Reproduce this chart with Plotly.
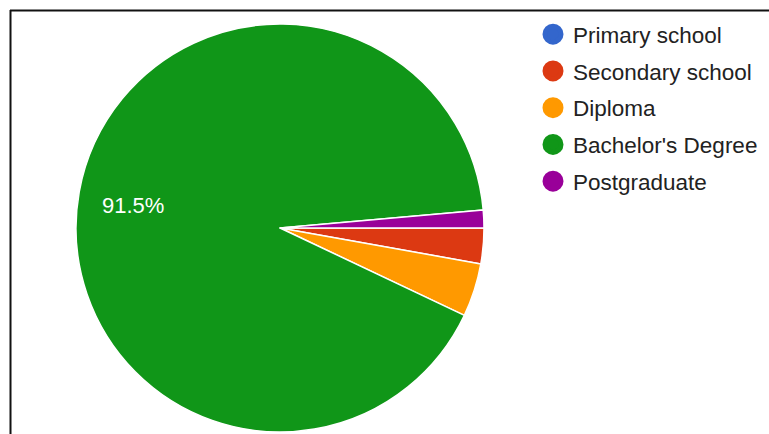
import math
import plotly.graph_objects as go

categories = ["Primary school", "Secondary school", "Diploma", "Bachelor's Degree", "Postgraduate"]
counts = [0, 2, 3, 65, 1]
colors = ["#3366cc", "#dc3912", "#ff9900", "#109618", "#990099"]
shown_label = [False, False, False, True, False]

W, H = 769, 434
FONT = "Liberation Sans, Arial, sans-serif"

# pie geometry (pixels)
PX0, PX1, PY_TOP, PY_BOT = 76, 484, 24, 432
CX, CY = (PX0 + PX1) / 2, (PY_TOP + PY_BOT) / 2
R = (PY_BOT - PY_TOP) / 2
START_DEG = 90

fig = go.Figure()

fig.add_trace(go.Pie(
    labels=categories,
    values=counts,
    sort=False,
    direction="clockwise",
    rotation=START_DEG,
    marker=dict(colors=colors, line=dict(color="white", width=1.5)),
    textinfo="none",
    showlegend=False,
    hoverinfo="label+percent",
    domain=dict(x=[PX0 / W, PX1 / W], y=[1 - PY_BOT / H, 1 - PY_TOP / H]),
))

# slice percentage labels placed along each slice's bisector
total = sum(counts)
cum = 0
annotations = []
for v, s in zip(counts, shown_label):
    a0 = START_DEG + 360 * cum / total
    cum += v
    a1 = START_DEG + 360 * cum / total
    if s:
        mid = math.radians((a0 + a1) / 2)
        px = CX + 0.73 * R * math.sin(mid)
        py = CY - 0.73 * R * math.cos(mid)
        annotations.append(dict(
            x=px / W, y=1 - py / H, xref="paper", yref="paper",
            text=f"{100 * v / total:.1f}%", showarrow=False,
            xanchor="center", yanchor="middle", yshift=-4,
            font=dict(color="white", size=22, family=FONT),
        ))

# legend entries with round markers
for i, (c, col) in enumerate(zip(categories, colors)):
    fig.add_trace(go.Scatter(
        x=[None], y=[None], mode="markers", name=c,
        marker=dict(symbol="circle", size=22, color=col, line=dict(color=col, width=5)),
        legendgroup="g%d" % i,
        showlegend=True,
    ))

fig.update_layout(
    width=W, height=H,
    margin=dict(l=0, r=0, t=0, b=0),
    paper_bgcolor="white",
    plot_bgcolor="white",
    xaxis=dict(visible=False),
    yaxis=dict(visible=False),
    font=dict(family=FONT, color="#222222", size=22),
    legend=dict(
        x=533 / W, y=1 - 13 / H, xanchor="left", yanchor="top",
        font=dict(size=22.5, family=FONT, color="#222222"),
        tracegroupgap=4.5,
        bgcolor="rgba(0,0,0,0)",
    ),
    annotations=annotations,
    shapes=[
        dict(type="line", xref="paper", yref="paper",
             x0=10 / W, x1=1, y0=1 - 10.5 / H, y1=1 - 10.5 / H,
             line=dict(color="#111111", width=2)),
        dict(type="line", xref="paper", yref="paper",
             x0=10.5 / W, x1=10.5 / W, y0=0, y1=1 - 10 / H,
             line=dict(color="#111111", width=2)),
    ],
)

fig.write_html("out.html")
